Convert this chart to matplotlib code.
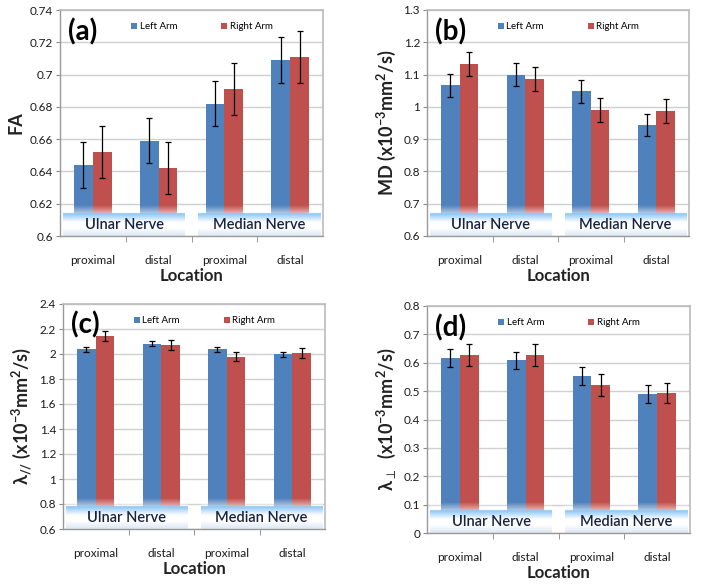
import numpy as np
import matplotlib
matplotlib.use("Agg")
import matplotlib.pyplot as plt
from matplotlib.colors import to_rgb

plt.rcParams['font.family'] = ['Lato', 'DejaVu Sans']
plt.rcParams['mathtext.fontset'] = 'custom'
plt.rcParams['mathtext.rm'] = 'Lato:bold'
plt.rcParams['mathtext.bf'] = 'Lato:bold'
plt.rcParams['mathtext.it'] = 'Lato:bold'
plt.rcParams['mathtext.sf'] = 'Lato:bold'
plt.rcParams['mathtext.fallback'] = 'cm'

locations = ["proximal", "distal", "proximal", "distal"]
nerves = ["Ulnar Nerve", "Median Nerve"]
series = ["Left Arm", "Right Arm"]

fa_left = [0.644, 0.659, 0.682, 0.709]
fa_right = [0.652, 0.642, 0.691, 0.711]
fa_left_err = [0.014, 0.014, 0.014, 0.014]
fa_right_err = [0.016, 0.016, 0.016, 0.016]

md_left = [1.067, 1.100, 1.048, 0.943]
md_right = [1.132, 1.087, 0.990, 0.987]
md_left_err = [0.035, 0.035, 0.036, 0.034]
md_right_err = [0.037, 0.037, 0.037, 0.036]

lpar_left = [2.038, 2.084, 2.039, 1.999]
lpar_right = [2.143, 2.073, 1.979, 2.009]
lpar_left_err = [0.020, 0.018, 0.020, 0.020]
lpar_right_err = [0.040, 0.043, 0.036, 0.040]

lperp_left = [0.616, 0.608, 0.553, 0.490]
lperp_right = [0.627, 0.627, 0.521, 0.494]
lperp_left_err = [0.031, 0.031, 0.031, 0.031]
lperp_right_err = [0.038, 0.038, 0.038, 0.036]

panels = [
    dict(tag="(a)", ylabel="FA", ylim=(0.6, 0.74), step=0.02,
         left=fa_left, right=fa_right, lerr=fa_left_err, rerr=fa_right_err,
         pos=[60, 10, 323, 236]),
    dict(tag="(b)", ylabel=r"MD (x10$^{-3}$mm$^{2}$/s)", ylim=(0.6, 1.3), step=0.1,
         left=md_left, right=md_right, lerr=md_left_err, rerr=md_right_err,
         pos=[427, 10, 689, 236]),
    dict(tag="(c)", ylabel=r"λ$_{//}$ (x10$^{-3}$mm$^{2}$/s)", ylim=(0.6, 2.4), step=0.2,
         left=lpar_left, right=lpar_right, lerr=lpar_left_err, rerr=lpar_right_err,
         pos=[63, 304, 325, 529]),
    dict(tag="(d)", ylabel=r"λ$_{\perp}$  (x10$^{-3}$mm$^{2}$/s)", ylim=(0.0, 0.8), step=0.1,
         left=lperp_left, right=lperp_right, lerr=lperp_left_err, rerr=lperp_right_err,
         pos=[427, 306, 690, 533]),
]

W, H = 701, 585
fig = plt.figure(figsize=(W / 100, H / 100), dpi=100)

blue = "#4F81BD"
red = "#C0504D"

BAND_TOP = 0.10
FADE_TOP = 0.135

# vertical gradient (top -> bottom) covering 0 .. FADE_TOP in axes fraction
def band_image():
    n = 120
    img = np.zeros((n, 1, 4))
    topc = np.array(to_rgb("#86C3F6"))
    white = np.array([1.0, 1.0, 1.0])
    botc = np.array(to_rgb("#DCE6F2"))
    for i in range(n):
        yfrac = FADE_TOP * (1 - i / (n - 1))  # axes fraction
        if yfrac > BAND_TOP:
            f = (FADE_TOP - yfrac) / (FADE_TOP - BAND_TOP)
            img[i, 0, :3] = white
            img[i, 0, 3] = 0.55 * f
        else:
            t = (BAND_TOP - yfrac) / BAND_TOP  # 0 at top, 1 at bottom
            if t < 0.4:
                f = t / 0.4
                c = topc * (1 - f) + white * f
            elif t < 0.65:
                c = white
            else:
                f = (t - 0.65) / 0.35
                c = white * (1 - f) + botc * f
            img[i, 0, :3] = c
            img[i, 0, 3] = 1.0
    return img

img = band_image()

for p in panels:
    x0, y0, x1, y1 = p["pos"]
    ax = fig.add_axes([x0 / W, 1 - y1 / H, (x1 - x0) / W, (y1 - y0) / H])
    x = np.arange(len(locations))
    bw = 0.286
    ax.bar(x - bw / 2, p["left"], bw, color=blue, label=series[0], zorder=2)
    ax.bar(x + bw / 2, p["right"], bw, color=red, label=series[1], zorder=2)
    ax.errorbar(x - bw / 2, p["left"], yerr=p["lerr"], fmt="none", ecolor="black",
                elinewidth=0.9, capsize=2.2, capthick=0.9, zorder=3)
    ax.errorbar(x + bw / 2, p["right"], yerr=p["rerr"], fmt="none", ecolor="black",
                elinewidth=0.9, capsize=2.2, capthick=0.9, zorder=3)
    lo, hi = p["ylim"]
    ticks = np.round(np.arange(lo, hi + p["step"] / 2, p["step"]), 3)
    ax.set_yticks(ticks)
    ax.set_yticklabels(["{:g}".format(t) for t in ticks], fontsize=8.5, color="#1a1a1a")
    ax.yaxis.grid(True, color="#D0D0D0", lw=1.0, zorder=0)
    ax.set_axisbelow(True)
    ax.set_xticks(x)
    ax.set_xticklabels(locations, fontsize=8.5, color="#1a1a1a")
    ax.tick_params(axis="x", which="major", length=0, pad=14)
    ax.set_xticks([0.5, 1.5, 2.5], minor=True)
    ax.tick_params(axis="x", which="minor", length=4, color="#888888")
    ax.tick_params(axis="y", length=3, color="#888888", pad=2)
    for s in ["top", "right"]:
        ax.spines[s].set_color("#BBBBBB")
        ax.spines[s].set_linewidth(1.2)
    for s in ["left", "bottom"]:
        ax.spines[s].set_color("#999999")
        ax.spines[s].set_linewidth(1.0)
    for s in ax.spines.values():
        s.set_zorder(8)
    ax.set_xlabel("Location", fontsize=12, fontweight="bold", labelpad=1, color="#222222")
    ax.set_ylabel(p["ylabel"], fontsize=13, fontweight="bold", color="#222222", labelpad=4)
    # bands
    for (bx0, bx1), name in zip([(0.012, 0.475), (0.525, 0.989)], nerves):
        ax.imshow(img, extent=[bx0, bx1, 0.0, FADE_TOP], transform=ax.transAxes,
                  aspect="auto", zorder=5, interpolation="bilinear")
        ax.text((bx0 + bx1) / 2, 0.047, name, transform=ax.transAxes, ha="center",
                va="center", fontsize=10.5, fontweight="semibold", color="#17233F", zorder=6)
    ax.set_xlim(-0.5, 3.5)
    ax.set_ylim(lo, hi)
    ax.text(0.03, 0.905, p["tag"], transform=ax.transAxes, fontsize=20,
            fontweight="bold", va="center", ha="left", zorder=7)
    leg = ax.legend(loc="upper center", bbox_to_anchor=(0.54, 0.985), ncol=2, frameon=False,
                    fontsize=7, handlelength=0.6, handleheight=0.6, handletextpad=0.3,
                    columnspacing=4.5)
    leg.set_zorder(7)

fig.savefig("out.png", dpi=100, facecolor="white")
